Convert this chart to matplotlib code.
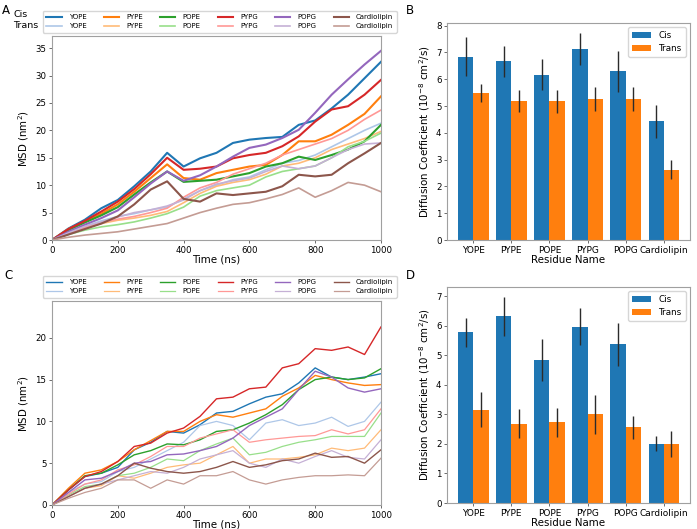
import matplotlib
matplotlib.use('Agg')
import matplotlib.pyplot as plt
import numpy as np

# ── data ─────────────────────────────────────────────────────────────────────
TIME_NS = [0, 50, 100, 150, 200, 250, 300, 350, 400, 450, 500,
           550, 600, 650, 700, 750, 800, 850, 900, 950, 1000]
LIPIDS = ['YOPE', 'PYPE', 'POPE', 'PYPG', 'POPG', 'Cardiolipin']

# panel A : MSD (nm^2), cis and trans
msd_a_cis = {
    'YOPE':        [0, 2.1, 3.7, 5.8, 7.3, 9.8, 12.5, 15.9, 13.4, 14.9, 15.9, 17.7, 18.3, 18.6, 18.8, 21.0, 21.8, 24.0, 26.5, 29.5, 32.5],
    'PYPE':        [0, 2.0, 3.3, 4.8, 6.5, 8.8, 11.3, 13.8, 11.3, 11.0, 12.2, 12.8, 13.4, 13.7, 15.5, 18.0, 18.0, 19.2, 21.0, 23.0, 26.2],
    'POPE':        [0, 1.8, 3.2, 4.5, 6.0, 8.3, 10.5, 12.5, 10.6, 10.8, 11.0, 11.6, 12.2, 13.4, 14.0, 15.2, 14.6, 15.5, 16.5, 18.0, 21.0],
    'PYPG':        [0, 2.0, 3.5, 5.2, 7.0, 9.3, 12.0, 15.0, 12.8, 13.0, 13.4, 14.9, 15.5, 15.9, 17.1, 18.9, 21.6, 23.8, 24.4, 26.5, 29.2],
    'POPG':        [0, 1.5, 2.8, 4.0, 5.4, 7.8, 10.3, 12.5, 10.8, 11.8, 13.4, 15.2, 16.8, 17.4, 18.6, 20.1, 23.2, 26.5, 29.3, 32.0, 34.5],
    'Cardiolipin': [0, 1.0, 2.0, 3.0, 4.3, 6.5, 9.2, 10.7, 7.5, 7.0, 8.5, 8.2, 8.5, 8.8, 9.8, 11.9, 11.6, 11.9, 14.0, 15.8, 17.7],
}
msd_a_trans = {
    'YOPE':        [0, 1.3, 2.5, 3.5, 4.3, 4.8, 5.5, 6.0, 7.5, 9.0, 10.0, 11.0, 11.5, 12.8, 14.0, 14.5, 15.5, 17.0, 18.5, 20.0, 21.3],
    'PYPE':        [0, 1.2, 2.2, 3.0, 3.6, 4.0, 4.5, 5.2, 6.8, 8.5, 9.8, 10.5, 11.0, 12.0, 13.5, 14.0, 15.0, 16.5, 17.5, 18.5, 19.8],
    'POPE':        [0, 1.0, 1.8, 2.4, 2.8, 3.3, 4.0, 4.8, 6.0, 8.0, 9.0, 9.5, 10.0, 11.5, 12.5, 13.0, 13.5, 15.0, 17.0, 18.0, 19.5],
    'PYPG':        [0, 1.2, 2.3, 3.2, 3.8, 4.3, 5.0, 5.8, 7.8, 9.5, 10.5, 12.0, 13.0, 14.0, 15.5, 16.5, 17.5, 18.5, 20.0, 22.0, 23.7],
    'POPG':        [0, 1.3, 2.5, 3.3, 4.2, 5.0, 5.5, 6.2, 7.3, 9.0, 10.2, 10.8, 11.3, 12.5, 13.5, 13.0, 13.5, 15.0, 16.5, 17.5, 17.7],
    'Cardiolipin': [0, 0.5, 0.9, 1.2, 1.5, 2.0, 2.5, 3.0, 4.0, 5.0, 5.8, 6.5, 6.8, 7.5, 8.3, 9.5, 7.8, 9.0, 10.5, 10.0, 8.8],
}

# panel C : MSD (nm^2), cis and trans
msd_c_cis = {
    'YOPE':        [0, 1.8, 3.4, 3.8, 4.5, 6.6, 7.5, 8.8, 8.6, 9.6, 11.0, 11.2, 12.1, 12.9, 13.3, 14.6, 16.4, 15.3, 15.0, 15.3, 15.7],
    'PYPE':        [0, 2.0, 3.8, 4.2, 5.2, 6.6, 7.7, 8.8, 8.8, 10.0, 10.8, 10.5, 11.0, 11.5, 13.0, 14.0, 15.5, 15.0, 14.6, 14.3, 14.4],
    'POPE':        [0, 1.8, 3.5, 3.8, 4.8, 6.0, 6.5, 7.3, 7.2, 7.8, 8.8, 9.0, 9.8, 10.8, 12.0, 13.8, 15.0, 15.3, 15.0, 15.2, 16.3],
    'PYPG':        [0, 1.8, 3.4, 4.0, 5.2, 7.0, 7.4, 8.6, 9.2, 10.6, 12.7, 12.9, 13.9, 14.1, 16.4, 16.9, 18.7, 18.5, 18.9, 18.0, 21.3],
    'POPG':        [0, 1.5, 3.0, 3.2, 4.0, 5.0, 5.2, 6.0, 6.1, 6.5, 7.0, 8.0, 9.5, 10.5, 11.5, 13.8, 16.0, 15.3, 14.0, 13.5, 13.9],
    'Cardiolipin': [0, 1.0, 2.0, 2.5, 3.5, 5.0, 4.4, 4.0, 3.8, 4.0, 4.5, 5.2, 4.5, 4.8, 5.3, 5.5, 6.2, 5.7, 5.8, 5.0, 6.6],
}
msd_c_trans = {
    'YOPE':        [0, 1.5, 2.5, 2.8, 4.0, 4.5, 5.5, 6.5, 7.5, 9.5, 10.0, 9.5, 7.8, 9.8, 10.2, 9.5, 9.8, 10.5, 9.4, 10.0, 12.3],
    'PYPE':        [0, 1.0, 2.0, 2.3, 3.5, 3.2, 3.8, 4.5, 4.8, 5.0, 6.0, 7.0, 5.0, 5.5, 5.5, 5.7, 6.0, 6.8, 6.5, 6.8, 9.0],
    'POPE':        [0, 1.2, 2.2, 2.5, 3.5, 3.8, 4.5, 5.5, 5.3, 6.5, 7.3, 8.0, 6.0, 6.3, 7.0, 7.5, 7.8, 8.2, 8.2, 8.2, 11.0],
    'PYPG':        [0, 1.3, 2.5, 3.0, 4.2, 4.8, 5.8, 7.0, 7.0, 8.0, 8.5, 9.0, 7.5, 7.8, 8.0, 8.2, 8.3, 9.0, 8.5, 9.0, 11.5],
    'POPG':        [0, 1.0, 2.0, 2.5, 3.0, 3.5, 4.0, 3.8, 4.5, 5.5, 6.0, 6.5, 5.0, 4.5, 5.5, 5.0, 5.8, 6.5, 5.7, 5.5, 7.8],
    'Cardiolipin': [0, 0.8, 1.5, 2.0, 3.0, 3.0, 2.0, 3.0, 2.5, 3.5, 3.5, 4.0, 3.0, 2.5, 3.0, 3.3, 3.5, 3.5, 3.6, 3.5, 5.6],
}

# panels B / D : diffusion coefficients (1e-8 cm^2/s) with errors
diff_b_cis = [6.84, 6.67, 6.17, 7.13, 6.30, 4.43]
diff_b_cis_err = [0.72, 0.58, 0.58, 0.58, 0.77, 0.61]
diff_b_trans = [5.48, 5.18, 5.17, 5.26, 5.27, 2.63]
diff_b_trans_err = [0.33, 0.41, 0.44, 0.46, 0.44, 0.36]

diff_d_cis = [5.77, 6.31, 4.83, 5.96, 5.37, 2.01]
diff_d_cis_err = [0.50, 0.65, 0.71, 0.63, 0.73, 0.25]
diff_d_trans = [3.16, 2.69, 2.73, 3.01, 2.56, 1.99]
diff_d_trans_err = [0.58, 0.49, 0.50, 0.66, 0.40, 0.44]

# ── style ────────────────────────────────────────────────────────────────────
CIS_COLORS = ['#1f77b4', '#ff7f0e', '#2ca02c', '#d62728', '#9467bd', '#8c564b']
TRANS_COLORS = ['#aec7e8', '#ffbb78', '#98df8a', '#ff9896', '#c5b0d5', '#c49c94']
SPINE = '#a0a0a0'
TICK_FS, LABEL_FS = 6.2, 7.4


def style_axes(ax):
    for s in ax.spines.values():
        s.set_color(SPINE)
        s.set_linewidth(0.8)
    ax.tick_params(labelsize=TICK_FS, length=2.5, width=0.6, color='#555555', pad=1.5)


def draw_msd(ax, cis, trans, lw_cis, lw_trans, ymax, yticks):
    handles = []
    for i, lip in enumerate(LIPIDS):
        h1, = ax.plot(TIME_NS, cis[lip], color=CIS_COLORS[i], lw=lw_cis, label=lip)
        h2, = ax.plot(TIME_NS, trans[lip], color=TRANS_COLORS[i], lw=lw_trans, label=lip)
        handles += [h1, h2]
    ax.set_xlim(0, 1000)
    ax.set_ylim(0, ymax)
    ax.set_xticks([0, 200, 400, 600, 800, 1000])
    ax.set_yticks(yticks)
    ax.set_xlabel('Time (ns)', fontsize=LABEL_FS, labelpad=0)
    ax.set_ylabel('MSD (nm$^2$)', fontsize=LABEL_FS, labelpad=3)
    style_axes(ax)
    ax.legend(handles=handles, ncol=6, loc='lower center', bbox_to_anchor=(0.51, 1.01),
              fontsize=5.0, handlelength=2.2, handletextpad=1.0, columnspacing=2.5,
              borderpad=0.5, labelspacing=0.4, frameon=True, borderaxespad=0.2)


def draw_bars(ax, cis, cis_err, trans, trans_err):
    x = np.arange(len(LIPIDS))
    w = 0.4
    ax.bar(x - w/2, cis, w, color='#1f77b4', label='Cis', zorder=2)
    ax.bar(x + w/2, trans, w, color='#ff7f0e', label='Trans', zorder=2)
    ax.errorbar(x - w/2, cis, yerr=cis_err, fmt='none', ecolor='#2b2b2b', elinewidth=1.0, zorder=3)
    ax.errorbar(x + w/2, trans, yerr=trans_err, fmt='none', ecolor='#2b2b2b', elinewidth=1.0, zorder=3)
    ax.set_xticks(x)
    ax.set_xticklabels(LIPIDS)
    ax.set_xlabel('Residue Name', fontsize=LABEL_FS, labelpad=0)
    ax.set_ylabel('Diffusion Coefficient (10$^{-8}$ cm$^2$/s)', fontsize=LABEL_FS, labelpad=3)
    style_axes(ax)
    ax.tick_params(axis='x', labelsize=6.5)
    ax.legend(loc='upper right', fontsize=6.3, handlelength=2.2, borderpad=0.45,
              labelspacing=0.4)


# ── figure ───────────────────────────────────────────────────────────────────
fig = plt.figure(figsize=(6.97, 5.29), dpi=100)
fig.patch.set_facecolor('white')

ax_a = fig.add_axes([0.0746, 0.5463, 0.472, 0.3856])
ax_b = fig.add_axes([0.6413, 0.5463, 0.3487, 0.410])
ax_c = fig.add_axes([0.0746, 0.0454, 0.472, 0.3856])
ax_d = fig.add_axes([0.6413, 0.0491, 0.3487, 0.4084])

draw_msd(ax_a, msd_a_cis, msd_a_trans, 1.5, 1.2, 37.2, [0, 5, 10, 15, 20, 25, 30, 35])
draw_msd(ax_c, msd_c_cis, msd_c_trans, 1.0, 0.9, 24.4, [0, 5, 10, 15, 20])
draw_bars(ax_b, diff_b_cis, diff_b_cis_err, diff_b_trans, diff_b_trans_err)
draw_bars(ax_d, diff_d_cis, diff_d_cis_err, diff_d_trans, diff_d_trans_err)

for lbl, x, y in [('A', 0.003, 0.993), ('B', 0.582, 0.993), ('C', 0.006, 0.492), ('D', 0.582, 0.492)]:
    fig.text(x, y, lbl, fontsize=8.5, va='top', ha='left')

fig.text(0.019, 0.972, 'Cis', fontsize=6.8, va='center', ha='left')
fig.text(0.019, 0.951, 'Trans', fontsize=6.8, va='center', ha='left')

fig.savefig('out.png', dpi=100, facecolor='white')
